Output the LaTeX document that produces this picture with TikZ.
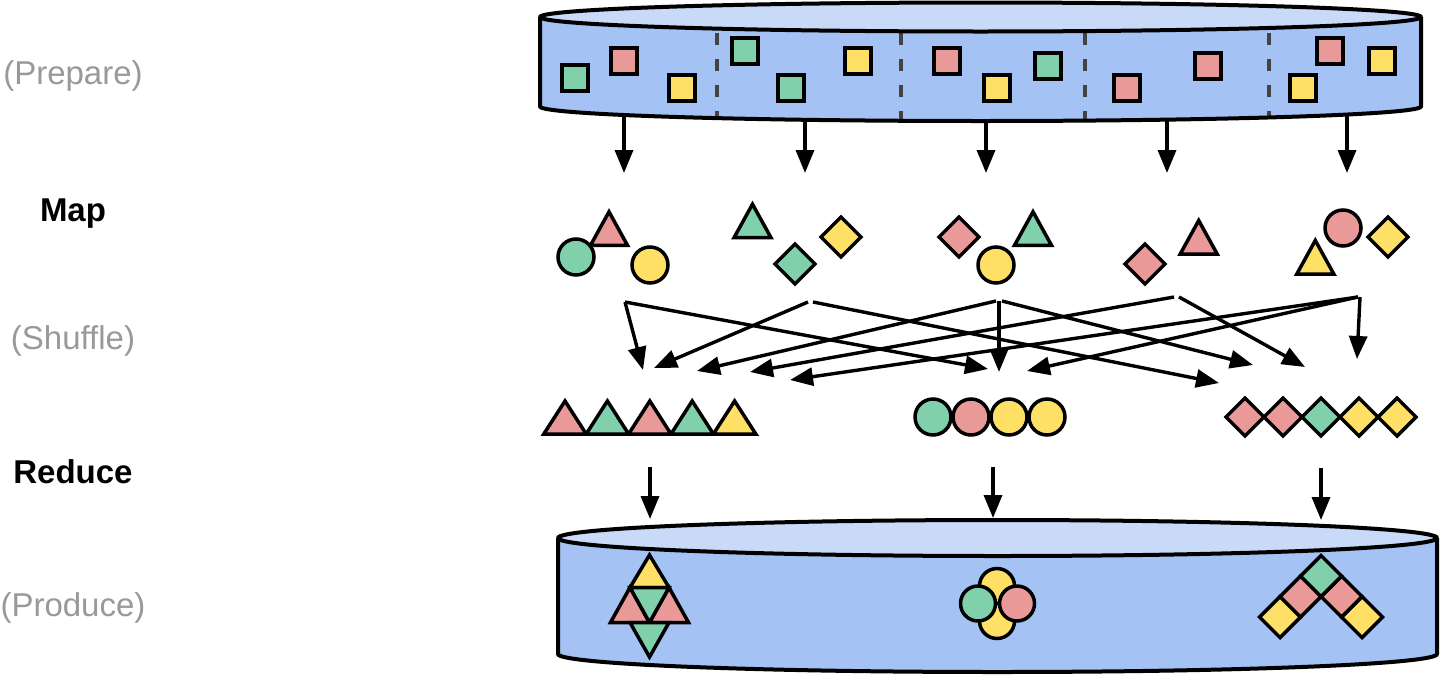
\documentclass[tikz,border=0pt]{standalone}
\usepackage{fontspec}
\setmainfont{Liberation Sans}
\usetikzlibrary{arrows.meta}
\definecolor{pinkc}{HTML}{EA9999}
\definecolor{greenc}{HTML}{80D0AC}
\definecolor{yellowc}{HTML}{FFE066}
\definecolor{sidec}{HTML}{A4C2F4}
\definecolor{topc}{HTML}{C9DAF8}
\definecolor{divc}{HTML}{434343}
\definecolor{labgray}{HTML}{999999}
\newcommand\shTri[5]{\draw[#1] ({#2-#4},{#3}) -- ({#2},{#3-#5}) -- ({#2+#4},{#3}) -- cycle;}
\newcommand\shInv[5]{\draw[#1] ({#2-#4},{#3}) -- ({#2},{#3+#5}) -- ({#2+#4},{#3}) -- cycle;}
\newcommand\shDia[4]{\draw[#1] ({#2-#4},{#3}) -- ({#2},{#3-#4}) -- ({#2+#4},{#3}) -- ({#2},{#3+#4}) -- cycle;}
\newcommand\shSq[3]{\draw[#1] ({#2-13},{#3-13}) rectangle ({#2+13},{#3+13});}
\newcommand\shCir[4]{\draw[#1] (#2,#3) circle[radius=#4];}
\begin{document}
\begin{tikzpicture}[x=1pt,y=-1pt,
  shp/.style={draw=black,line width=3.5pt,line join=miter,miter limit=10},
  pk/.style={shp,fill=pinkc},
  gr/.style={shp,fill=greenc},
  yl/.style={shp,fill=yellowc},
  arr/.style={draw=black,line width=3.4pt,-{Triangle[length=23pt,width=18pt]}},
  cyl/.style={draw=black,line width=4pt,line join=round},
  divl/.style={draw=divc,line width=3.4pt,dash pattern=on 12pt off 14pt},
  lbl/.style={font=\fontsize{33}{40}\selectfont,text=labgray,anchor=base,inner sep=0pt},
  lblb/.style={font=\fontsize{33}{40}\selectfont\bfseries,text=black,anchor=base,inner sep=0pt}]
\useasboundingbox (0,0) rectangle (1440,675);

% ---------- labels
\node[lbl]  (lprep) at (73,84.5) {(Prepare)};
\node[lblb] (lmap)  at (73,221.5) {Map};
\node[lbl]  (lshuf) at (73,349.5) {(Shuffle)};
\node[lblb] (lred)  at (73,483) {Reduce};
\node[lbl]  (lprod) at (73,616) {(Produce)};

% ---------- top cylinder
\fill[sidec] (540,17) -- (540,106.5) arc[start angle=180,end angle=0,x radius=440.5,y radius=14.5] -- (1421,17) -- cycle;
\draw[divl] (717,33) -- (717,118);
\draw[divl] (901,33) -- (901,120.5);
\draw[divl] (1085,33) -- (1085,120.5);
\draw[divl] (1269,33) -- (1269,117.5);
\shSq{gr}{575}{78}
\shSq{pk}{624}{61}
\shSq{yl}{682}{88}
\shSq{gr}{745}{51}
\shSq{gr}{791}{88}
\shSq{yl}{858}{61}
\shSq{pk}{947}{61}
\shSq{yl}{997}{88}
\shSq{gr}{1048}{66}
\shSq{pk}{1127}{88}
\shSq{pk}{1208}{66}
\shSq{pk}{1330}{51}
\shSq{yl}{1382}{61}
\shSq{yl}{1303}{88}
\draw[cyl] (540,17) -- (540,106.5) arc[start angle=180,end angle=0,x radius=440.5,y radius=14.5] -- (1421,17);
\draw[cyl,fill=topc] (980.5,17) ellipse[x radius=440.5,y radius=14.5];

% ---------- bottom cylinder
\fill[sidec] (558,538) -- (558,654) arc[start angle=180,end angle=0,x radius=439.5,y radius=18] -- (1437,538) -- cycle;
\draw[cyl] (558,538) -- (558,654) arc[start angle=180,end angle=0,x radius=439.5,y radius=18] -- (1437,538);
\draw[cyl,fill=topc] (997.5,538) ellipse[x radius=439.5,y radius=18];
% triangles
\shTri{yl}{649.5}{587.5}{19.5}{32.5}
\shTri{pk}{630}{622.5}{19.5}{35}
\shTri{pk}{669}{622.5}{19.5}{35}
\shInv{gr}{649.5}{587.5}{19.5}{35}
\shInv{gr}{649.5}{622.5}{19.5}{34.5}
% circles
\shCir{yl}{997}{586}{17.5}
\shCir{yl}{997}{621}{17.5}
\shCir{gr}{978}{603.5}{17.5}
\shCir{pk}{1017}{603.5}{17.5}
% diamonds
\shDia{yl}{1280}{617}{20.5}
\shDia{yl}{1362}{617}{20.5}
\shDia{pk}{1300.5}{596.5}{20.5}
\shDia{pk}{1341.5}{596.5}{20.5}
\shDia{gr}{1321}{576}{20.5}

% ---------- map row
\shTri{pk}{609}{245.3}{18.5}{33.5}
\shCir{gr}{576}{257}{18}
\shCir{yl}{650}{265}{18}
\shTri{gr}{752.5}{237.7}{18.5}{33.5}
\shDia{yl}{841}{237}{20}
\shDia{gr}{795}{264}{20}
\shDia{pk}{959}{237}{20}
\shCir{yl}{996}{265}{18}
\shTri{gr}{1033}{245.3}{18.5}{33.5}
\shDia{pk}{1145}{264}{20}
\shTri{pk}{1198.7}{254}{18.5}{33.5}
\shTri{yl}{1315.3}{274}{18.5}{33.5}
\shCir{pk}{1343}{228}{18}
\shDia{yl}{1388}{237}{20}

% ---------- reduce row
\shTri{pk}{565}{434}{21.2}{33}
\shTri{gr}{607.4}{434}{21.2}{33}
\shTri{pk}{649.8}{434}{21.2}{33}
\shTri{gr}{692.2}{434}{21.2}{33}
\shTri{yl}{734.6}{434}{21.2}{33}
\shCir{gr}{933}{417}{18}
\shCir{pk}{971}{417}{18}
\shCir{yl}{1009}{417}{18}
\shCir{yl}{1047}{417}{18}
\shDia{pk}{1245}{417}{19}
\shDia{pk}{1283}{417}{19}
\shDia{gr}{1321}{417}{19}
\shDia{yl}{1359}{417}{19}
\shDia{yl}{1397}{417}{19}

% ---------- connector end points
\coordinate (a1s) at (624,115);  \coordinate (a1e) at (624,173);
\coordinate (a2s) at (805,120);  \coordinate (a2e) at (805,173);
\coordinate (a3s) at (986,121);  \coordinate (a3e) at (986,173);
\coordinate (a4s) at (1167,120); \coordinate (a4e) at (1167,173);
\coordinate (a5s) at (1347,115); \coordinate (a5e) at (1347,173);

\coordinate (s1)  at (625,302);
\coordinate (s2a) at (808,302);  \coordinate (s2b) at (813,302);
\coordinate (s3a) at (996,301);  \coordinate (s3c) at (999,301); \coordinate (s3b) at (1002,301);
\coordinate (s4a) at (1174,297); \coordinate (s4b) at (1179,297);
\coordinate (s5a) at (1358,297); \coordinate (s5b) at (1360,297);

\coordinate (t1) at (643,370);
\coordinate (t2) at (654,368);
\coordinate (t3) at (697,371);
\coordinate (t4) at (750,372);
\coordinate (t5) at (790,380);
\coordinate (c1) at (988,369);
\coordinate (c2) at (999,372);
\coordinate (c3) at (1027,371);
\coordinate (d1) at (1219,383);
\coordinate (d2) at (1253,365);
\coordinate (d3) at (1305,367);
\coordinate (d4) at (1357,359);

\coordinate (r1s) at (650,467);  \coordinate (r1e) at (650,519);
\coordinate (r2s) at (993,467);  \coordinate (r2e) at (993,518);
\coordinate (r3s) at (1321,468); \coordinate (r3e) at (1321,520);

% ---------- arrows
\draw[arr] (a1s) -- (a1e);
\draw[arr] (a2s) -- (a2e);
\draw[arr] (a3s) -- (a3e);
\draw[arr] (a4s) -- (a4e);
\draw[arr] (a5s) -- (a5e);

\draw[arr] (s1) -- (t1);
\draw[arr] (s1) -- (c1);
\draw[arr] (s2a) -- (t2);
\draw[arr] (s2b) -- (d1);
\draw[arr] (s3a) -- (t3);
\draw[arr] (s3c) -- (c2);
\draw[arr] (s3b) -- (d2);
\draw[arr] (s4a) -- (t4);
\draw[arr] (s4b) -- (d3);
\draw[arr] (s5a) -- (t5);
\draw[arr] (s5a) -- (c3);
\draw[arr] (s5b) -- (d4);

\draw[arr] (r1s) -- (r1e);
\draw[arr] (r2s) -- (r2e);
\draw[arr] (r3s) -- (r3e);
\end{tikzpicture}
\end{document}
